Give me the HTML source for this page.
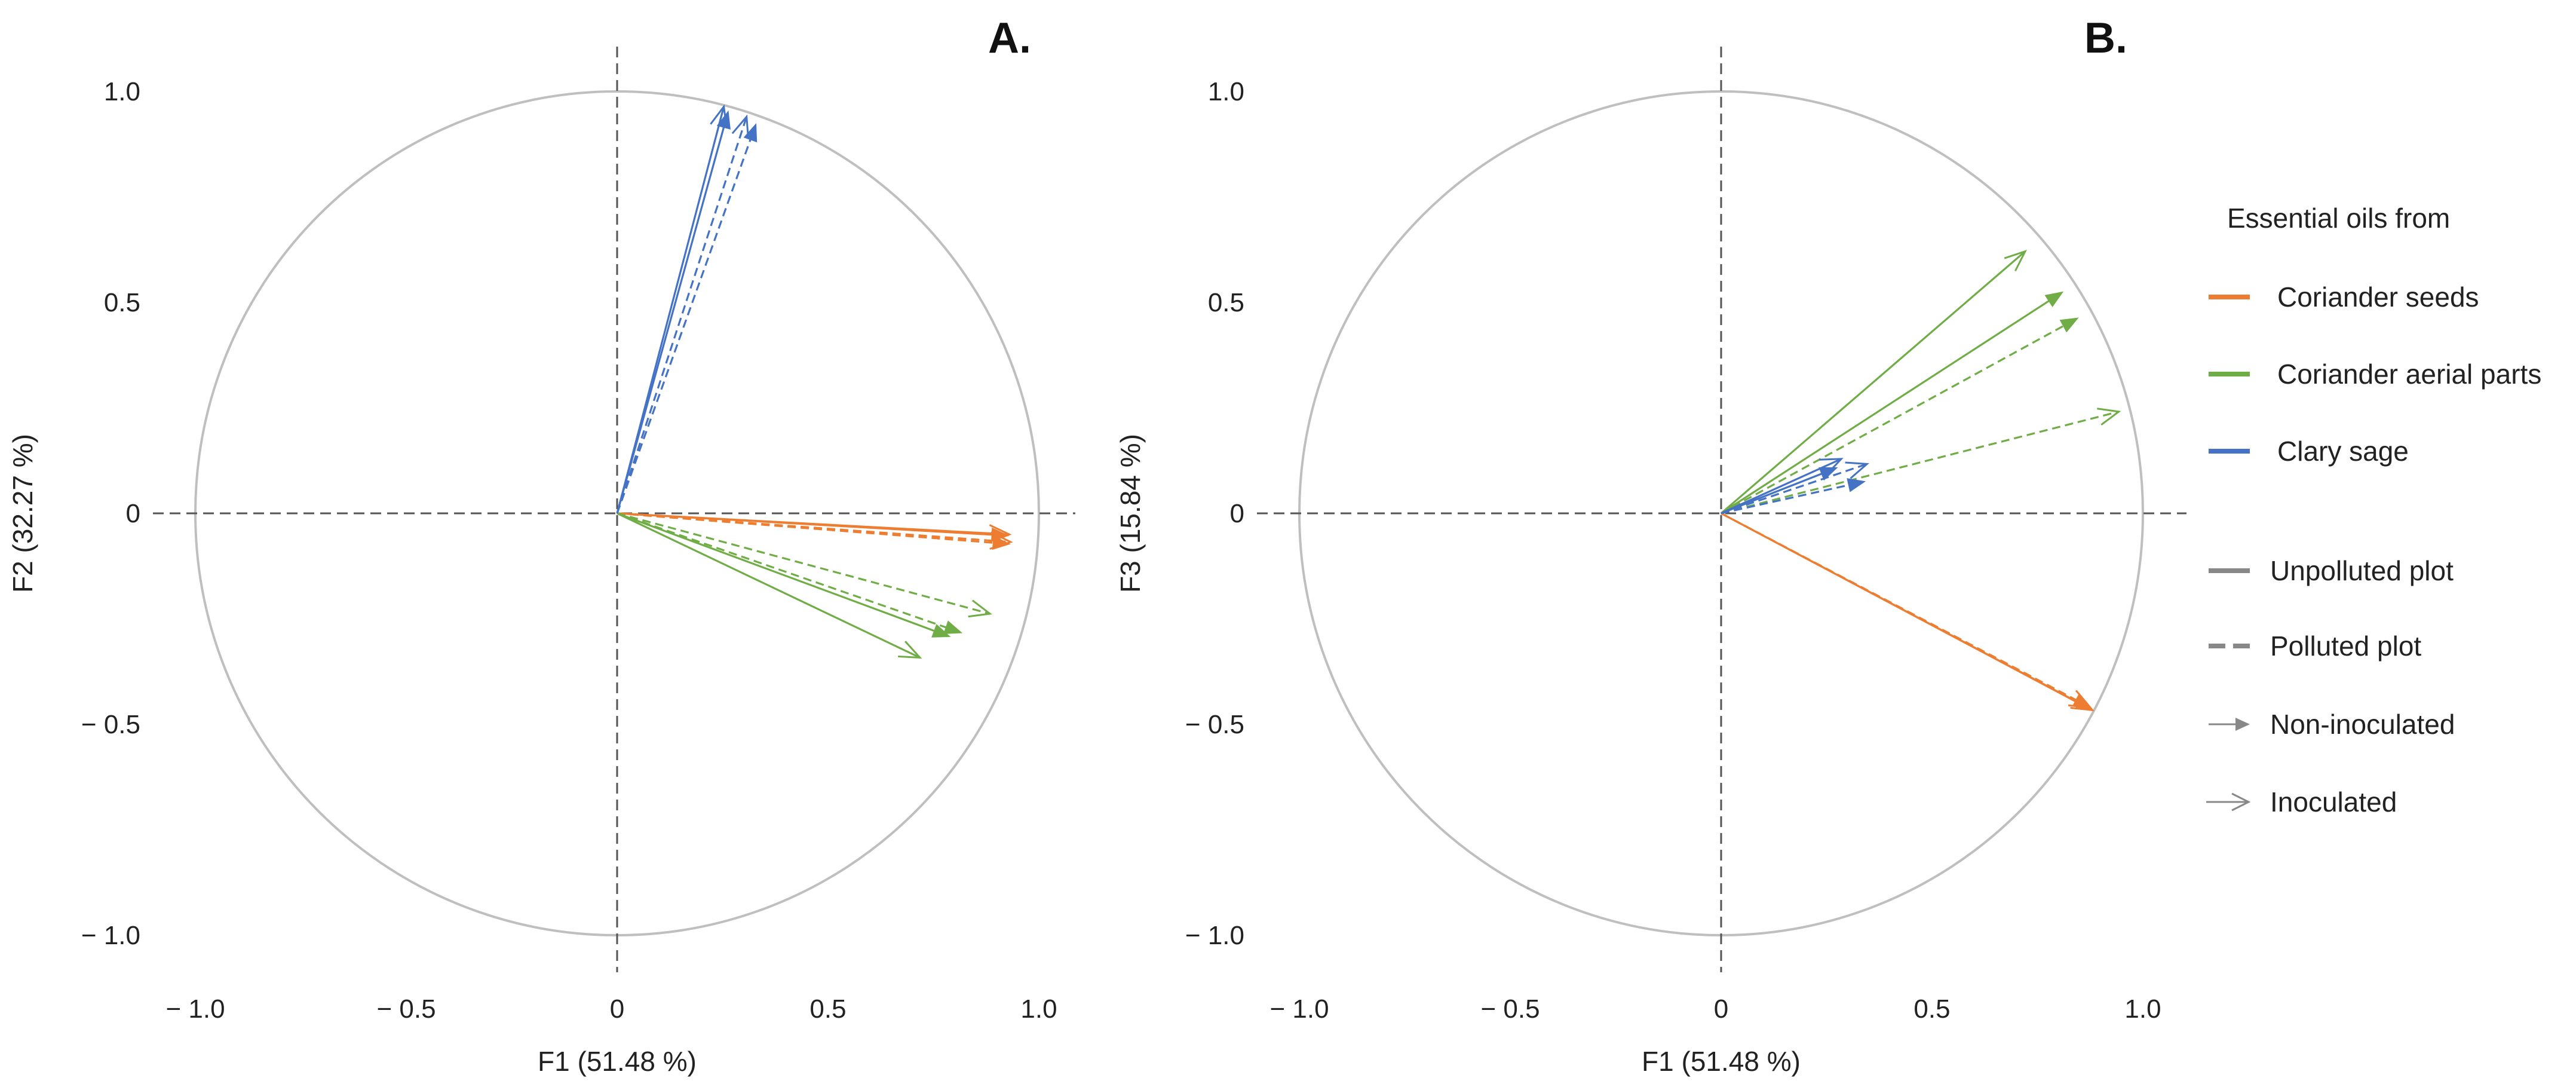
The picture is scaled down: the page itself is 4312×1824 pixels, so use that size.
<!DOCTYPE html>
<html><head><meta charset="utf-8"><style>
html,body{margin:0;padding:0;background:#fff;}
svg{display:block;font-family:"Liberation Sans",sans-serif;}
</style></head><body>
<svg id="chart" width="4312" height="1824" viewBox="0 0 4312 1824">
<rect width="4312" height="1824" fill="#fff"/>
</svg>
<script>
// Data (unit-circle coordinates)
const series = ["seeds-unpolluted-noninoc","seeds-unpolluted-inoc","seeds-polluted-noninoc","seeds-polluted-inoc","aerial-unpolluted-noninoc","aerial-unpolluted-inoc","aerial-polluted-noninoc","aerial-polluted-inoc","sage-unpolluted-noninoc","sage-unpolluted-inoc","sage-polluted-noninoc","sage-polluted-inoc"];
const oils = ["seeds","seeds","seeds","seeds","aerial","aerial","aerial","aerial","sage","sage","sage","sage"];
const dashedFlags = [false,false,true,true,false,false,true,true,false,false,true,true];
const openFlags = [false,true,false,true,false,true,false,true,false,true,false,true];
const panelA_x = [0.93,0.93,0.933,0.933,0.791,0.718,0.819,0.884,0.264,0.253,0.33,0.307];
const panelA_y = [-0.053,-0.050,-0.073,-0.068,-0.293,-0.342,-0.284,-0.238,0.955,0.964,0.925,0.94];
const panelB_x = [0.884,0.880,0.878,0.875,0.812,0.721,0.848,0.943,0.277,0.285,0.343,0.346];
const panelB_y = [-0.469,-0.466,-0.462,-0.460,0.526,0.621,0.464,0.241,0.109,0.129,0.076,0.117];
const ticks = [-1.0,-0.5,0,0.5,1.0];
const tickLabels = ["\u2212 1.0","\u2212 0.5","0","0.5","1.0"];

const colors = {seeds:"#ED7D31", aerial:"#70AD47", sage:"#4472C4"};
const NS = "http://www.w3.org/2000/svg";
const svg = document.getElementById("chart");
function mk(tag, attrs, parent){const e=document.createElementNS(NS,tag);for(const k in attrs)e.setAttribute(k,attrs[k]);(parent||svg).appendChild(e);return e;}

const R = 706, CY = 859;
function drawPanel(cx, xs, ys, yLabel, title, name, ylabX, tickRight, hLineStart, hLineEnd){
  const g = mk("g",{});
  
  
  const sx = v => cx + v*R;
  const sy = v => CY - v*R;
  const c = mk("circle",{cx:cx,cy:CY,r:R,fill:"none",stroke:"#bfbfbf","stroke-width":4},g);
  
  
  const h = mk("line",{x1:hLineStart,y1:CY,x2:hLineEnd,y2:CY,stroke:"#555","stroke-width":3,"stroke-dasharray":"18 10"},g);
  
  
  const v = mk("line",{x1:cx,y1:78,x2:cx,y2:1627,stroke:"#555","stroke-width":3,"stroke-dasharray":"18 10"},g);
  
  
  ticks.forEach((t,i)=>{
    const tx = mk("text",{x:sx(t),y:1703,"font-size":44,"text-anchor":"middle",fill:"#222"},g);
    tx.textContent = tickLabels[i];
    
    
    const ty = mk("text",{x:tickRight,y:sy(t)+15,"font-size":44,"text-anchor":"end",fill:"#222"},g);
    ty.textContent = tickLabels[i];
    
    
  });
  const xl = mk("text",{x:cx,y:1792,"font-size":46,"text-anchor":"middle",fill:"#222"},g);
  xl.textContent = "F1 (51.48 %)";
  
  
  const yl = mk("text",{x:ylabX,y:CY,"font-size":46,"text-anchor":"middle",fill:"#222",transform:`rotate(-90 ${ylabX} ${CY})`},g);
  yl.textContent = yLabel;
  
  
  const tt = mk("text",{x:title.x,y:88,"font-size":72,"font-weight":"bold","text-anchor":"middle",fill:"#111"},g);
  tt.textContent = title.t;
  
  
  xs.forEach((xv,i)=>{
    const x2 = sx(xv), y2 = sy(ys[i]);
    const col = colors[oils[i]];
    const ang = Math.atan2(y2-CY, x2-cx);
    const L = openFlags[i]?34:30, W = openFlags[i]?14:12;
    const bx = x2 - L*Math.cos(ang), by = y2 - L*Math.sin(ang);
    const px = -Math.sin(ang)*W, py = Math.cos(ang)*W;
    const ag = mk("g",{},g);
    
    
    const lx = openFlags[i]? x2 : bx + 4*Math.cos(ang), ly = openFlags[i]? y2 : by + 4*Math.sin(ang);
    const ln = mk("line",{x1:cx,y1:CY,x2:lx,y2:ly,stroke:col,"stroke-width":3.2},ag);
    if(dashedFlags[i]) ln.setAttribute("stroke-dasharray","14 8");
    if(openFlags[i]){
      mk("polyline",{points:`${bx+px},${by+py} ${x2},${y2} ${bx-px},${by-py}`,fill:"none",stroke:col,"stroke-width":3},ag);
    } else {
      mk("polygon",{points:`${bx+px},${by+py} ${x2},${y2} ${bx-px},${by-py}`,fill:col},ag);
    }
  });
}
drawPanel(1033, panelA_x, panelA_y, "F2 (32.27 %)", {x:1690,t:"A."}, "panel-a", 54, 235, 256, 1800);
drawPanel(2881, panelB_x, panelB_y, "F3 (15.84 %)", {x:3525,t:"B."}, "panel-b", 1908, 2083, 2104, 3660);

// Legend
const lg = mk("g",{});


const lt = mk("text",{x:3728,y:381,"font-size":46,fill:"#222"},lg);
lt.textContent = "Essential oils from";


const legItems = [
  {y:497,t:"Coriander seeds",type:"line",col:"#ED7D31"},
  {y:626,t:"Coriander aerial parts",type:"line",col:"#70AD47"},
  {y:755,t:"Clary sage",type:"line",col:"#4472C4"},
  {y:955,t:"Unpolluted plot",type:"line",col:"#888"},
  {y:1081,t:"Polluted plot",type:"dash",col:"#888"},
  {y:1212,t:"Non-inoculated",type:"filled",col:"#888"},
  {y:1342,t:"Inoculated",type:"open",col:"#888"}
];
legItems.forEach((it,i)=>{
  const eg = mk("g",{},lg);
  
  
  const x0 = 3697, x1 = 3766;
  if(it.type==="line") mk("line",{x1:x0,y1:it.y,x2:x1,y2:it.y,stroke:it.col,"stroke-width":8},eg);
  else if(it.type==="dash") mk("line",{x1:x0,y1:it.y,x2:x1,y2:it.y,stroke:it.col,"stroke-width":8,"stroke-dasharray":"28 13"},eg);
  else if(it.type==="filled"){ mk("line",{x1:x0,y1:it.y,x2:x1-20,y2:it.y,stroke:it.col,"stroke-width":3},eg); mk("polygon",{points:`${x1-24},${it.y-11} ${x1},${it.y} ${x1-24},${it.y+11}`,fill:it.col},eg); }
  else { mk("line",{x1:x0-4,y1:it.y,x2:x1-2,y2:it.y,stroke:it.col,"stroke-width":3},eg); mk("polyline",{points:`${x1-30},${it.y-14} ${x1-2},${it.y} ${x1-30},${it.y+14}`,fill:"none",stroke:it.col,"stroke-width":3},eg); }
  const tx = mk("text",{x:i<3?3812:3800,y:it.y+16,"font-size":46,fill:"#222"},eg);
  tx.textContent = it.t;
});
</script>
</body></html>
